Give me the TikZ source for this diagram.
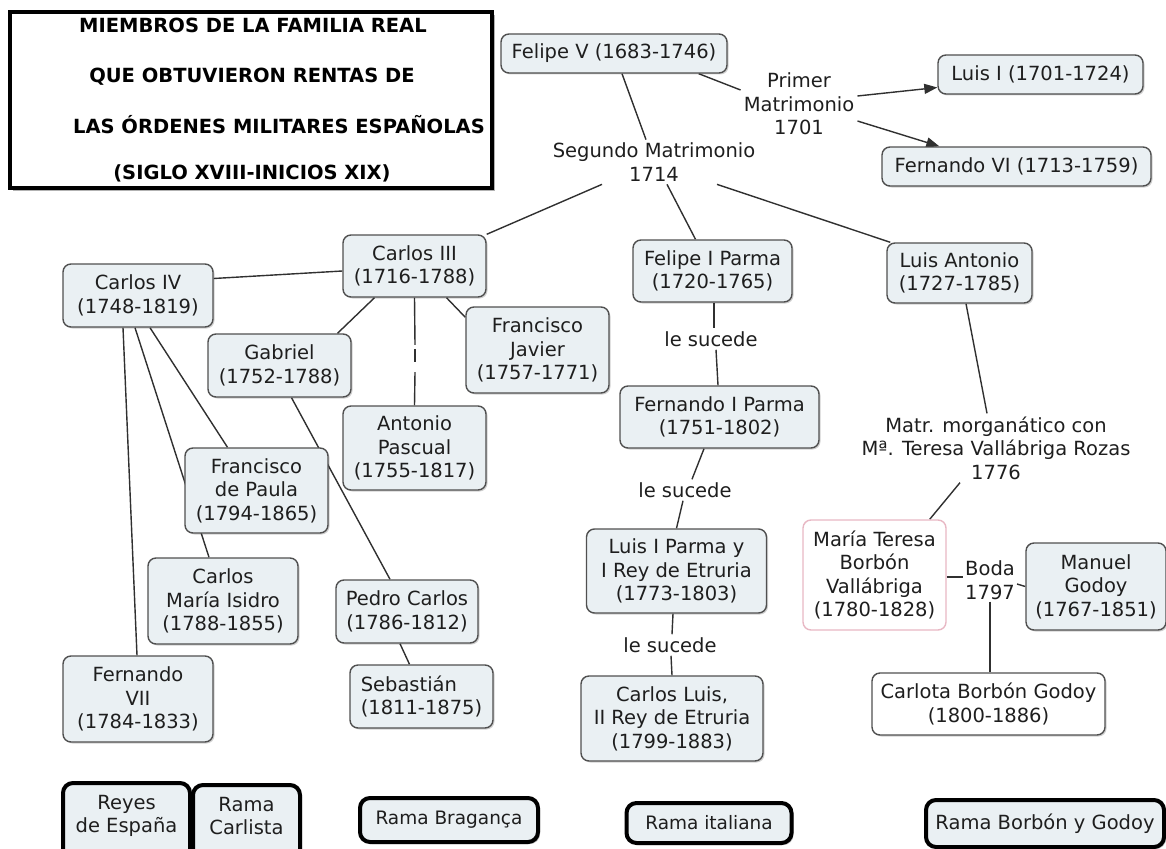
\documentclass[tikz,border=0pt]{standalone}
\usepackage{fontspec}
\setmainfont{DejaVu Sans}
\usetikzlibrary{arrows.meta,shadows,backgrounds}
\definecolor{boxfill}{HTML}{EAF0F3}
\definecolor{boxline}{HTML}{505050}
\definecolor{pinkline}{HTML}{E8B8C4}
\definecolor{edgecol}{HTML}{303030}
\definecolor{txt}{HTML}{1E1E1E}
\newcommand\nfs{\fontsize{19.5}{23.5}\selectfont}
\newcommand\tfs{\fontsize{19.5}{23.5}\selectfont\bfseries}
\begin{document}
\begin{tikzpicture}[x=1pt,y=-1pt,
  cbox/.style={draw=boxline, fill=boxfill, rounded corners=8pt, line width=1.4pt, align=center, inner sep=0pt, font=\nfs, text=txt,
    drop shadow={shadow xshift=1.5pt,shadow yshift=-1.5pt,fill=black,opacity=0.18}},
  pbox/.style={draw=pinkline, fill=white, rounded corners=8pt, line width=1.4pt, align=center, inner sep=0pt, font=\nfs, text=txt},
  sz/.style 2 args={minimum width=#1pt, minimum height=#2pt},
  lbl/.style={align=center, font=\nfs, text=txt, inner sep=3pt},
  legend/.style={draw=black, line width=4pt, fill=boxfill, rounded corners=10pt, align=center, inner sep=0pt, font=\nfs, text=txt,
    drop shadow={shadow xshift=2pt,shadow yshift=-2pt,fill=black,opacity=0.25}},
  conn/.style={draw=edgecol, line width=1.4pt},
  arr/.style={conn, -{Triangle[length=13pt,width=10pt]}},
  ttl/.style={font=\tfs, text=black, inner sep=0pt}]
\useasboundingbox (0,0) rectangle (1166,848);
\clip (0,0) rectangle (1166,848);

% title
\node[draw=black, line width=3.5pt, fill=white, minimum width=482pt, minimum height=176pt,
  drop shadow={shadow xshift=3pt,shadow yshift=-3pt,fill=black,opacity=0.3}] (titlebox) at (251,100) {};
\node[ttl] (t1) at (253,25) {MIEMBROS DE LA FAMILIA REAL};
\node[ttl] (t2) at (252,77) {QUE OBTUVIERON RENTAS DE};
\node[ttl] (t3) at (279,125) {LAS ÓRDENES MILITARES ESPAÑOLAS};
\node[ttl] (t4) at (252,173) {(SIGLO XVIII-INICIOS XIX)};

% nodes
\node[cbox, sz={226}{39}] (felipe) at (614,53.5) {Felipe V (1683-1746)};
\node[lbl] (primer) at (799,104) {Primer\\Matrimonio\\1701};
\node[cbox, sz={205}{39}] (luisI) at (1040.5,74.5) {Luis I (1701-1724)};
\node[cbox, sz={269}{39}] (fernVI) at (1016.5,166.5) {Fernando VI (1713-1759)};
\node[lbl] (segundo) at (654,162) {Segundo Matrimonio\\1714};
\node[cbox, sz={143}{62}] (c3) at (414.5,266) {Carlos III\\(1716-1788)};
\node[cbox, sz={150}{63}] (c4) at (138,295.5) {Carlos IV\\(1748-1819)};
\node[cbox, sz={143}{63}] (gabriel) at (279.5,365.5) {Gabriel\\(1752-1788)};
\node[cbox, sz={143}{86}] (fjavier) at (537.5,350) {Francisco\\Javier\\(1757-1771)};
\node[cbox, sz={143}{84}] (apascual) at (414.5,448) {Antonio\\Pascual\\(1755-1817)};
\node[inner sep=0pt, minimum width=2pt, minimum height=27pt] (gap) at (415,358.5) {};
\node[cbox, sz={143}{85}] (fpaula) at (256.5,490.5) {Francisco\\de Paula\\(1794-1865)};
\node[cbox, sz={150}{86}] (cmisidro) at (223,601) {Carlos\\María Isidro\\(1788-1855)};
\node[cbox, sz={142}{63}] (pedro) at (407,611.5) {Pedro Carlos\\(1786-1812)};
\node[cbox, sz={143}{63}, align=left] (sebastian) at (421.5,696.5) {Sebastián\\(1811-1875)};
\node[cbox, sz={150}{86}] (f7) at (138,699) {Fernando\\VII\\(1784-1833)};
\node[cbox, sz={159}{62}] (felipe1) at (712.5,271) {Felipe I Parma\\(1720-1765)};
\node[lbl] (ls1) at (711,339) {le sucede};
\node[cbox, sz={199}{62}] (fern1) at (719.5,417) {Fernando I Parma\\(1751-1802)};
\node[lbl] (ls2) at (685,490) {le sucede};
\node[cbox, sz={180}{84}] (luis1p) at (676.5,571) {Luis I Parma y\\I Rey de Etruria\\(1773-1803)};
\node[lbl] (ls3) at (670,645) {le sucede};
\node[cbox, sz={182}{85}] (carlosluis) at (672,718.5) {Carlos Luis,\\II Rey de Etruria\\(1799-1883)};
\node[cbox, sz={145}{60}] (luisant) at (959.5,273) {Luis Antonio\\(1727-1785)};
\node[lbl] (matr) at (996,448) {Matr. morganático con\\Mª. Teresa Vallábriga Rozas\\1776};
\node[pbox, sz={143}{110}] (mteresa) at (874.5,575) {María Teresa\\Borbón\\Vallábriga\\(1780-1828)};
\node[lbl, inner sep=2pt] (boda) at (990,580) {Boda\\1797};
\node[cbox, sz={140}{87}] (godoy) at (1096,586.5) {Manuel\\Godoy\\(1767-1851)};
\node[cbox, fill=white, sz={233}{62}] (carlota) at (988.5,704) {Carlota Borbón Godoy\\(1800-1886)};

% legend
\node[legend, sz={127}{80}, text depth=18pt] (reyes) at (126.5,823) {Reyes\\de España};
\node[legend, sz={107}{80}, text depth=18pt] (carlista) at (246.5,825) {Rama\\Carlista};
\node[legend, sz={178}{44}, font=\fontsize{18.5}{22}\selectfont] (braganca) at (449,820) {Rama Bragança};
\node[legend, sz={165}{40}, font=\fontsize{18.5}{22}\selectfont] (italiana) at (709,823) {Rama italiana};
\node[legend, sz={238}{47}] (borbongodoy) at (1045,823.5) {Rama Borbón y Godoy};

% connectors
\begin{scope}[on background layer]
\draw[conn] ([xshift=-29pt]felipe.south east) -- ([yshift=14pt]primer.west);
\draw[arr] ([yshift=8pt]primer.east) -- ([yshift=-13pt]luisI.west);
\draw[arr] ([yshift=-17pt]primer.east) -- ([xshift=58pt]fernVI.north west);
\draw[conn] ([xshift=8pt]felipe.south) -- ([xshift=-8pt]segundo.north);
\draw[conn] ([xshift=-52pt]segundo.south) -- (c3.north east);
\draw[conn] ([xshift=13pt]segundo.south) -- ([xshift=-17pt]felipe1.north);
\draw[conn] ([xshift=63pt]segundo.south) -- ([xshift=4pt]luisant.north west);
\draw[conn] ([yshift=-5pt]c3.west) -- ([yshift=17pt]c4.east);
\draw[conn] ([xshift=-40pt]c3.south) -- ([xshift=58pt]gabriel.north);
\draw[conn] (c3.south) -- (gap.north);
\draw[conn] ([yshift=-4pt]gap.north) -- ([yshift=-17pt]gap.north);
\draw[conn] (gap.south) -- (apascual.north);
\draw[conn] ([xshift=32pt]c3.south) -- ([yshift=-11pt]fjavier.north west);
\draw[conn] ([xshift=-15pt]c4.south) -- ([xshift=-1pt]f7.north);
\draw[conn] ([xshift=-3pt]c4.south) -- ([xshift=-14pt]cmisidro.north);
\draw[conn] ([xshift=12pt]c4.south) -- ([xshift=-29pt]fpaula.north);
\draw[conn] ([xshift=12pt]gabriel.south) -- ([xshift=-17pt]pedro.north);
\draw[conn] ([xshift=-7pt]pedro.south) -- ([xshift=-12pt]sebastian.north);
\draw[conn] ([xshift=1.5pt]felipe1.south) -- ([xshift=3pt]ls1.north);
\draw[conn] ([xshift=5pt]ls1.south) -- ([xshift=-1.5pt]fern1.north);
\draw[conn] ([xshift=-15.5pt]fern1.south) -- ([xshift=7pt]ls2.north);
\draw[conn] ([xshift=-2pt]ls2.south) -- (luis1p.north);
\draw[conn] ([xshift=-3.5pt]luis1p.south) -- ([xshift=2pt]ls3.north);
\draw[conn] ([xshift=1pt]ls3.south) -- (carlosluis.north);
\draw[conn] ([xshift=6.5pt]luisant.south) -- ([xshift=-9pt]matr.north);
\draw[conn] ([xshift=-36pt]matr.south) -- ([xshift=-17pt]mteresa.north east);
\draw[conn] ([yshift=-2pt]mteresa.east) -- ([yshift=3pt]boda.west);
\draw[conn] ([yshift=-4pt]boda.east) -- (godoy.west);
\draw[conn] (boda.south) -- (boda.south |- carlota.north);
\end{scope}
\end{tikzpicture}
\end{document}
